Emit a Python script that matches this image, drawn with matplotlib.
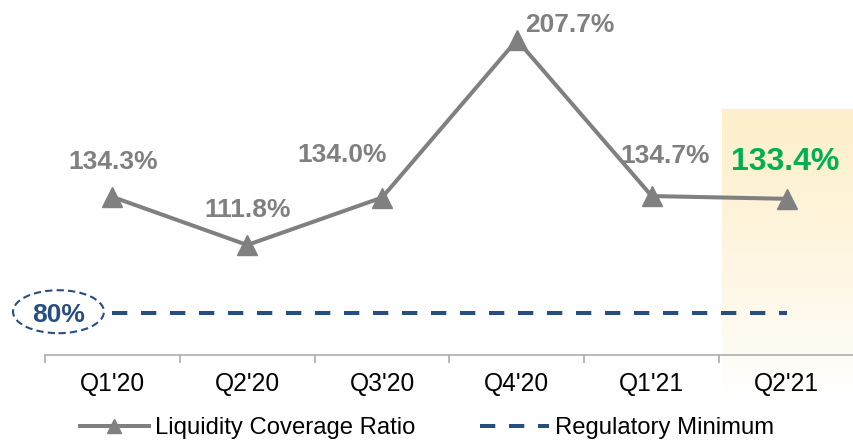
import matplotlib
matplotlib.use("Agg")
import matplotlib.pyplot as plt
from matplotlib.patches import Ellipse
from matplotlib.lines import Line2D
import numpy as np

plt.rcParams["font.family"] = ["Liberation Sans", "DejaVu Sans"]

quarters = ["Q1'20", "Q2'20", "Q3'20", "Q4'20", "Q1'21", "Q2'21"]
lcr = [134.3, 111.8, 134.0, 207.7, 134.7, 133.4]
reg_min = 80
# label offsets (pixels) from each point
label_dx = [1, 0, -40, 53, 13, -1]
label_dy = [28, 28, 36, 8, 33, 29]

GRAY = "#808080"
BLUE = "#284E80"
GREEN = "#00B050"

fig = plt.figure(figsize=(8.54, 4.42), dpi=100)
ax = fig.add_axes([45 / 854, 87 / 442, 809 / 854, 355 / 442])

x = np.arange(len(quarters))

# highlight for the latest quarter, fading to white
grad = np.linspace(0, 1, 256).reshape(-1, 1)
top = np.array([254, 240, 205]) / 255
cols = top + (1 - top) * grad[..., None] ** 1.3
cols = np.clip(cols, 0, 1)
ax.imshow(cols, extent=(4.52, 5.5, 39.3, 175.4), aspect="auto",
          origin="upper", zorder=0, clip_on=False)
ax.set_xlim(-0.5, 5.5)
ax.set_ylim(60.35, 226.4)

ax.plot(x, lcr, color=GRAY, lw=2.9, marker="^", ms=14, zorder=3,
        label="Liquidity Coverage Ratio")
ax.plot(x, [reg_min] * len(x), color=BLUE, lw=2.9, ls=(0, (3.8, 3.4)),
        dash_capstyle="butt", zorder=2, label="Regulatory Minimum")

for i, v in enumerate(lcr):
    last = i == len(lcr) - 1
    ax.annotate(f"{v:.1f}%", (x[i], v), xytext=(label_dx[i], label_dy[i]),
                textcoords="offset pixels", ha="center", va="baseline",
                fontsize=23 if last else 19, fontweight="bold",
                color=GREEN if last else GRAY, zorder=4)

# regulatory minimum badge
ell = Ellipse((-0.4, 80.6), 0.674, 20.1, fill=False, edgecolor=BLUE,
              lw=1.5, ls=(0, (3.5, 2)), clip_on=False, zorder=4)
ax.add_patch(ell)
ax.annotate(f"{reg_min}%", (-0.4, reg_min), xytext=(0, -9),
            textcoords="offset pixels", ha="center", va="baseline",
            fontsize=19, fontweight="bold", color=BLUE,
            annotation_clip=False)

for s in ["top", "left", "right"]:
    ax.spines[s].set_visible(False)
ax.spines["bottom"].set_color("#A6A6A6")
ax.spines["bottom"].set_linewidth(1.1)
ax.spines["bottom"].set_zorder(5)
ax.set_yticks([])
ax.set_xticks(x)
ax.set_xticklabels(quarters, fontsize=17.7)
ax.set_xticks(np.arange(-0.5, 6, 1), minor=True)
ax.tick_params(axis="x", which="major", length=0, pad=12)
ax.tick_params(axis="x", which="minor", length=6, width=1.1,
               color="#A6A6A6", direction="out")
ax.patch.set_visible(False)

handles = [
    Line2D([], [], color=GRAY, lw=2.9, marker="^", ms=10),
    Line2D([], [], color=BLUE, lw=2.9, ls=(0, (3.8, 3.4)), dash_capstyle="butt"),
]
fig.legend(handles, ["Liquidity Coverage Ratio", "Regulatory Minimum"],
           loc="center", bbox_to_anchor=(0.5, 14 / 442), ncol=2,
           frameon=False, fontsize=17.2, handlelength=2.9, handletextpad=0.25,
           columnspacing=2.7, numpoints=1, borderaxespad=0, borderpad=0)

fig.savefig("out.png", dpi=100)
